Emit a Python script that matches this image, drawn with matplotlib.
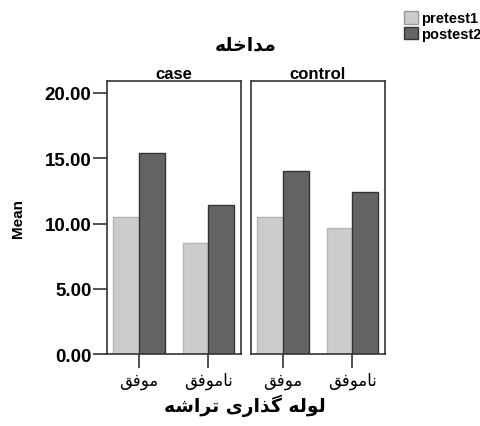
import matplotlib
matplotlib.use("Agg")
import matplotlib.pyplot as plt
import numpy as np
from matplotlib.patches import Patch

# Arabic text pre-shaped (presentation forms, visual order)
title_top = "\uFEEA\uFEE0\uFEA7\uFE8D\uFEAA\uFEE3"          # مداخله
cat_ok = "\uFED6\uFED3\uFEEE\uFEE3"                         # موفق
cat_fail = "\uFED6\uFED3\uFEEE\uFEE3\uFE8E\uFEE7"           # ناموفق
xlabel = ("\uFEEA\uFEB7\uFE8D\uFEAE\uFE97 "
          "\uFBFC\uFEAD\uFE8D\uFEAC\uFB94 "
          "\uFEEA\uFEDF\uFEEE\uFEDF")                       # لوله گذاری تراشه

panels = ["case", "control"]
categories = [cat_ok, cat_fail]
pretest1 = {"case": [10.5, 8.5], "control": [10.5, 9.65]}
postest2 = {"case": [15.4, 11.45], "control": [14.0, 12.4]}
yticks = [0, 5, 10, 15, 20]

plt.rcParams['font.family'] = ['Liberation Sans', 'DejaVu Sans']

fig = plt.figure(figsize=(4.81, 4.27), dpi=100)
lefts = [0.2218, 0.5212]
w = 0.2786
x = np.arange(len(categories))
bw = 0.37

for i, name in enumerate(panels):
    ax = fig.add_axes([lefts[i], 0.168, w, 0.640])
    ax.bar(x - bw / 2, pretest1[name], bw, color='#cccccc', edgecolor='#b4b4b4', linewidth=1)
    ax.bar(x + bw / 2, postest2[name], bw, color='#646464', edgecolor='#333333', linewidth=1)
    ax.set_xlim(-0.466, 1.467)
    ax.set_ylim(0, 20.9)
    for s in ax.spines.values():
        s.set_color('#333333')
        s.set_linewidth(1.2)
    ax.set_xticks(x)
    ax.set_xticklabels(categories, family='DejaVu Sans', fontsize=12)
    ax.tick_params(axis='x', length=10, width=1.2, color='#333333', pad=2)
    ax.set_title(name, fontsize=12, fontweight='bold', pad=1)
    if i == 0:
        ax.set_yticks(yticks)
        ax.set_yticklabels([f"{v:.2f}" for v in yticks], fontsize=13.5, fontweight='bold')
        ax.tick_params(axis='y', length=10, width=1.2, color='#333333', pad=1)
        ax.set_ylabel("Mean", fontsize=11, fontweight='bold', labelpad=14)
    else:
        ax.set_yticks([])

fig.text(0.51, 0.895, title_top, ha='center', va='center', fontsize=13.5,
         fontweight='bold', family='DejaVu Sans')
fig.text(0.51, 0.05, xlabel, ha='center', va='center', fontsize=13.5,
         fontweight='bold', family='DejaVu Sans')

handles = [Patch(facecolor='#cccccc', edgecolor='#999999', label='pretest1'),
           Patch(facecolor='#646464', edgecolor='#333333', label='postest2')]
fig.legend(handles=handles, loc='upper left', bbox_to_anchor=(0.84, 0.972),
           frameon=False, prop={'size': 10.5, 'weight': 'bold'},
           handlelength=0.95, handleheight=0.95, handletextpad=0.2,
           labelspacing=0.1, borderpad=0, borderaxespad=0)

fig.savefig("out.png", dpi=100)
